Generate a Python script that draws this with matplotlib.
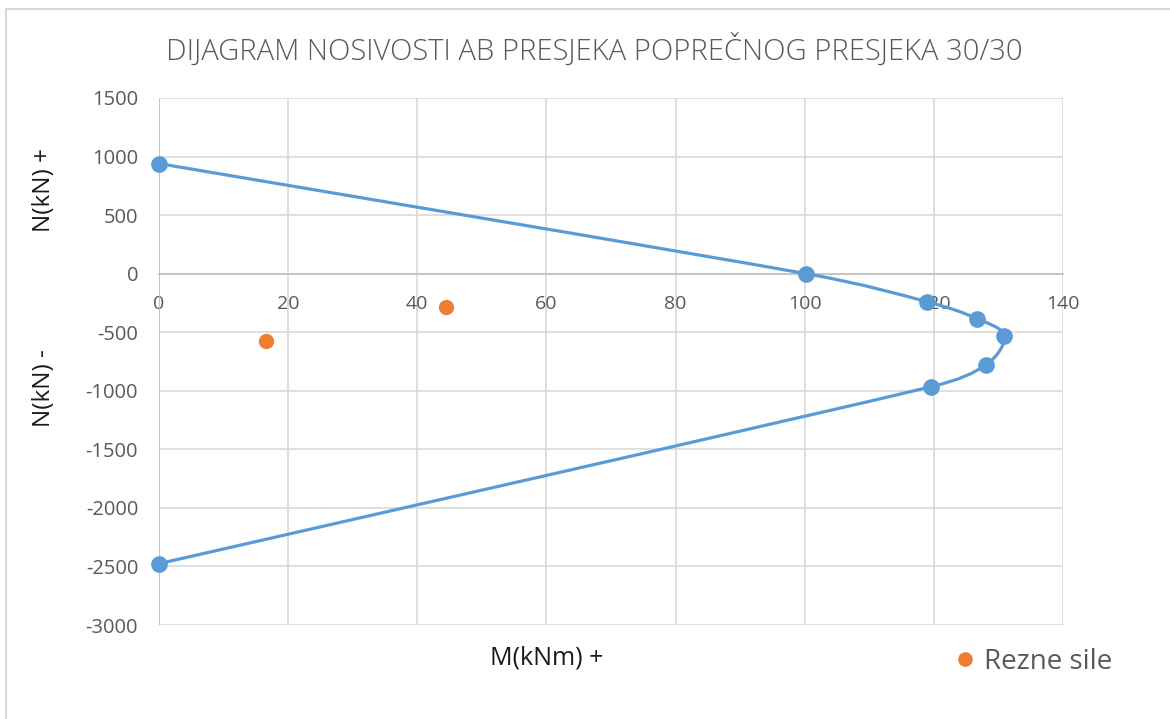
import numpy as np
import matplotlib.pyplot as plt
from matplotlib.path import Path
from matplotlib.patches import PathPatch
from matplotlib.lines import Line2D

# interaction diagram points (M in kNm, N in kN)
m_capacity = [0.0, 100.2, 118.9, 126.7, 130.9, 128.1, 119.6, 0.0]
n_capacity = [940, 0, -239, -384, -529, -777, -965, -2476]

# section forces
m_forces = [16.6, 44.4]
n_forces = [-572, -282]

x_ticks = [0, 20, 40, 60, 80, 100, 120, 140]
y_ticks = [1500, 1000, 500, 0, -500, -1000, -1500, -2000, -2500, -3000]

BLUE = "#5B9BD5"
ORANGE = "#ED7D31"
TEXT = "#595959"
GRID = "#D9D9D9"

plt.rcParams['font.family'] = ['Open Sans', 'DejaVu Sans']
plt.rcParams['axes.unicode_minus'] = False


def smooth_path(xs, ys, sx, sy):
    # smoothed line: cubic segments with control arms capped at half the
    # segment length, computed in screen-like units (sx, sy = px per unit)
    pts = np.column_stack([np.asarray(xs) * sx, np.asarray(ys) * sy]).astype(float)
    n = len(pts)
    verts = [pts[0]]
    codes = [Path.MOVETO]
    for i in range(n - 1):
        p0 = pts[i - 1] if i > 0 else pts[i]
        p1 = pts[i]
        p2 = pts[i + 1]
        p3 = pts[i + 2] if i + 2 < n else pts[i + 1]
        d12 = np.hypot(*(p2 - p1))
        d02 = np.hypot(*(p2 - p0))
        d13 = np.hypot(*(p3 - p1))
        f1 = 1 / 6
        if d02 / 6 > d12 / 2 and d02 > 0:
            f1 = d12 / (2 * d02)
        f2 = 1 / 6
        if d13 / 6 > d12 / 2 and d13 > 0:
            f2 = d12 / (2 * d13)
        c1 = p1 + f1 * (p2 - p0)
        c2 = p2 - f2 * (p3 - p1)
        verts += [c1, c2, p2]
        codes += [Path.CURVE4] * 3
    verts = np.array(verts)
    verts[:, 0] /= sx
    verts[:, 1] /= sy
    return Path(verts, codes)


fig = plt.figure(figsize=(11.7, 7.19), dpi=100)
ax = fig.add_axes([0.1359, 0.1307, 0.7726, 0.7330])

ax.set_xlim(0, 140)
ax.set_ylim(-3000, 1500)
ax.set_xticks(x_ticks)
ax.set_yticks(y_ticks)
ax.grid(True, color=GRID, linewidth=1.2)
ax.set_axisbelow(True)

for side in ["top", "right", "left"]:
    ax.spines[side].set_visible(False)
ax.spines["bottom"].set_position(("data", 0))
ax.spines["bottom"].set_color("#BFBFBF")
ax.spines["bottom"].set_linewidth(1.2)
ax.axvline(0, color="#BFBFBF", linewidth=1.2, zorder=1)

ax.tick_params(axis="x", length=0, pad=15, labelsize=14, labelcolor=TEXT)
ax.tick_params(axis="y", length=0, pad=15, labelsize=14.5, labelcolor=TEXT)

# capacity curve
px_x = 904 / 140
px_y = 527 / 4500
patch = PathPatch(smooth_path(m_capacity, n_capacity, px_x, px_y), facecolor="none",
                  edgecolor=BLUE, linewidth=2.3, capstyle="round", zorder=3)
ax.add_patch(patch)
ax.plot(m_capacity, n_capacity, linestyle="none", marker="o", markersize=11,
        color=BLUE, zorder=4, clip_on=False)

ax.plot(m_forces, n_forces, linestyle="none", marker="o", markersize=10,
        color=ORANGE, zorder=4, label="Rezne sile")

fig.text(0.508, 0.930, "DIJAGRAM NOSIVOSTI AB PRESJEKA POPREČNOG PRESJEKA 30/30",
         ha="center", va="center", fontsize=21, color=TEXT, fontweight="light")

fig.text(0.467, 0.085, "M(kNm) +", ha="center", va="center", fontsize=18, color="#1A1A1A")
fig.text(0.038, 0.735, "N(kN) +", ha="center", va="center", rotation=90, fontsize=17.5, color="#1A1A1A")
fig.text(0.038, 0.46, "N(kN) -", ha="center", va="center", rotation=90, fontsize=17.5, color="#1A1A1A")

leg = fig.legend(loc="center left", bbox_to_anchor=(0.815, 0.079), frameon=False,
                 fontsize=20, handlelength=0.8, handletextpad=0.3, markerscale=0.95,
                 borderaxespad=0, borderpad=0)
for t in leg.get_texts():
    t.set_color(TEXT)

# chart area border
fig.add_artist(Line2D([0.005, 0.005], [0.0, 0.988], color="#D9D9D9", linewidth=1.5))
fig.add_artist(Line2D([0.005, 1.0], [0.988, 0.988], color="#D9D9D9", linewidth=1.5))

fig.savefig("out.png", dpi=100, facecolor="white")
